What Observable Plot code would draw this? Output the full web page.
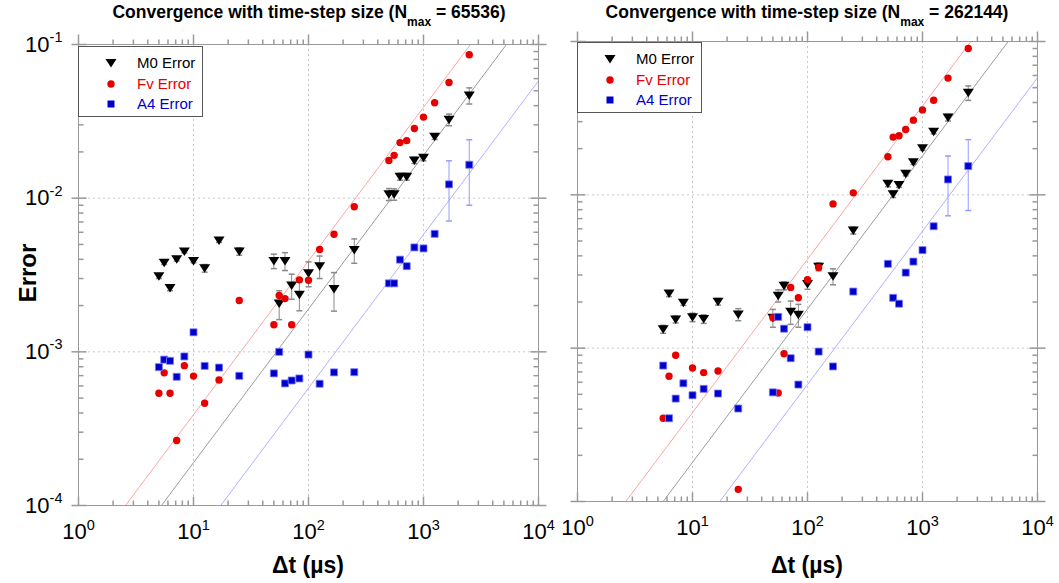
<!DOCTYPE html>
<html><head><meta charset="utf-8">
<script src="https://cdn.jsdelivr.net/npm/d3@7"></script>
<script src="https://cdn.jsdelivr.net/npm/@observablehq/plot@0.6"></script>
<style>
body{margin:0;background:#fff;}
#wrap{position:relative;width:1059px;height:583px;overflow:hidden;font-family:"Liberation Sans",Arial,sans-serif;background:#fff;}
.title{position:absolute;top:2px;font-weight:bold;font-size:17.5px;white-space:nowrap;transform:translateX(-50%);color:#000;}
.title sub{font-size:12px;vertical-align:-8px;line-height:0;}
.xlab{position:absolute;top:552px;font-weight:bold;font-size:23px;transform:translateX(-50%);white-space:nowrap;}
.ylab{position:absolute;left:28px;top:273px;font-weight:bold;font-size:24px;transform:translate(-50%,-50%) rotate(-90deg);}
.legend{position:absolute;border:1px solid #555;background:#fff;width:125px;height:71px;box-sizing:border-box;}
.legend .row{position:absolute;left:0;height:20px;font-size:15px;line-height:20px;}
.legend .row span{position:absolute;left:58px;white-space:nowrap;}
.legend .row svg{position:absolute;left:24px;top:2px;}
.panel{position:absolute;top:0;}
</style></head><body><div id="wrap"></div>
<script>
// ---- data ----
const seriesNames = ["M0 Error", "Fv Error", "A4 Error"];
const seriesColors = ["#000000", "#e60000", "#0000cc"];
const fitColors = ["#909090", "#ff9a9a", "#a8a8ff"];
const xTickValues = [1, 10, 100, 1000, 10000];
const yTickValues = [1e-4, 1e-3, 1e-2, 1e-1];

const dtLeft = [5, 5.56, 6.25, 7.14, 8.33, 10, 12.5, 16.67, 25, 50, 55.6, 62.5, 71.4, 83.3, 100, 125, 166.7, 250, 500, 555.6, 625, 714.3, 833.3, 1000, 1250, 1666.7, 2500];
const m0Left = [3.1e-3, 3.8e-3, 2.6e-3, 4.0e-3, 4.5e-3, 3.9e-3, 3.5e-3, 5.3e-3, 4.5e-3, 3.9e-3, 2.06e-3, 3.9e-3, 2.7e-3, 2.35e-3, 3.25e-3, 3.6e-3, 2.56e-3, 4.6e-3, 1.06e-2, 1.06e-2, 1.38e-2, 1.38e-2, 1.76e-2, 1.83e-2, 2.51e-2, 3.24e-2, 4.66e-2];
const m0ErrLeft = [0.1e-3, 0.1e-3, 0.1e-3, 0.1e-3, 0.1e-3, 0.1e-3, 0.2e-3, 0.15e-3, 0.25e-3, 0.42e-3, 0.44e-3, 0.52e-3, 0.5e-3, 0.5e-3, 0.6e-3, 0.6e-3, 0.72e-3, 0.83e-3, 0.95e-3, 0.9e-3, 0.7e-3, 0.7e-3, 0.8e-3, 0.8e-3, 1.0e-3, 2.8e-3, 5.6e-3];
const fvLeft = [5.38e-4, 7.3e-4, 5.38e-4, 2.65e-4, 8.13e-4, 6.95e-4, 4.63e-4, 6.55e-4, 2.16e-3, 1.5e-3, 2.33e-3, 2.22e-3, 1.5e-3, 2.94e-3, 2.92e-3, 4.63e-3, 5.83e-3, 8.8e-3, 1.76e-2, 1.9e-2, 2.3e-2, 2.37e-2, 2.84e-2, 3.37e-2, 4.18e-2, 5.66e-2, 8.57e-2];
const a4Left = [7.95e-4, 8.9e-4, 8.74e-4, 6.88e-4, 9.33e-4, 1.34e-3, 8.1e-4, 7.9e-4, 6.98e-4, 7.24e-4, 1.0e-3, 6.23e-4, 6.51e-4, 6.71e-4, 9.6e-4, 6.2e-4, 7.35e-4, 7.37e-4, 2.79e-3, 2.79e-3, 3.98e-3, 3.61e-3, 4.78e-3, 4.71e-3, 5.86e-3, 1.23e-2, 1.65e-2];
const a4ErrLeft = [0, 0, 0, 0, 0, 0, 0, 0, 0, 0, 0, 0, 0, 0, 0, 0, 0, 0, 0, 0, 0, 0, 0, 0, 0, 5.2e-3, 7.5e-3];
const fitCoefLeft = [1.9e-5, 3.9e-5, 5.8e-6];

const dtRight = [5.56, 6.25, 7.14, 8.33, 10, 12.5, 16.67, 25, 50, 55.6, 62.5, 71.4, 83.3, 100, 125, 166.7, 250, 500, 555.6, 625, 714.3, 833.3, 1000, 1250, 1666.7, 2500];
const m0Right = [1.33e-3, 2.27e-3, 1.54e-3, 1.98e-3, 1.59e-3, 1.55e-3, 2.01e-3, 1.66e-3, 1.58e-3, 2.2e-3, 2.55e-3, 1.73e-3, 1.65e-3, 2.62e-3, 3.4e-3, 2.94e-3, 5.85e-3, 1.18e-2, 1.01e-2, 1.16e-2, 1.37e-2, 1.63e-2, 2.01e-2, 2.58e-2, 3.19e-2, 4.63e-2];
const m0ErrRight = [0.08e-3, 0.1e-3, 0.08e-3, 0.08e-3, 0.1e-3, 0.1e-3, 0.1e-3, 0.15e-3, 0.21e-3, 0.2e-3, 0.15e-3, 0.3e-3, 0.28e-3, 0.2e-3, 0.2e-3, 0.35e-3, 0.3e-3, 0.5e-3, 0.5e-3, 0.4e-3, 0.4e-3, 0.5e-3, 0.6e-3, 0.8e-3, 1.6e-3, 5e-3];
const fvRight = [3.49e-4, 6.56e-4, 9.0e-4, null, 7.43e-4, 6.93e-4, 7.1e-4, 1.2e-4, 1.58e-3, 5.1e-4, 9.2e-4, 2.49e-3, 2.13e-3, 2.8e-3, 3.36e-3, 8.73e-3, 1.03e-2, 1.77e-2, 2.38e-2, 2.43e-2, 2.67e-2, 3.07e-2, 3.58e-2, 4.14e-2, 5.77e-2, 9.0e-2];
const a4Right = [7.7e-4, 3.49e-4, 4.69e-4, 5.9e-4, 4.93e-4, 5.43e-4, 5.06e-4, 4.04e-4, 5.15e-4, 1.6e-3, 1.34e-3, 8.6e-4, 5.79e-4, 1.37e-3, 9.5e-4, 7.6e-4, 2.34e-3, 3.55e-3, 2.13e-3, 1.95e-3, 3.11e-3, 3.67e-3, 4.36e-3, 6.24e-3, 1.26e-2, 1.54e-2];
const a4ErrRight = [0, 0, 0, 0, 0, 0, 0, 0, 0, 0, 0, 0, 0, 0, 0, 0, 0, 0, 0, 0, 0, 0, 0, 0, 5.3e-3, 7.5e-3];
const fitCoefRight = [1.8e-5, 3.8e-5, 5.8e-6];

const titles = ["65536", "262144"];

// ---- symbols ----
const triDown = {draw(c){c.moveTo(-5.5,-4);c.lineTo(5.5,-4);c.lineTo(0,4.5);c.closePath();}};
const sq = {draw(c){c.rect(-3.5,-3.5,7,7);}};
const circ = {draw(c){c.moveTo(3.7,0);c.arc(0,0,3.7,0,2*Math.PI);}};
const legendSymbols = [triDown, circ, sq];
const seg = (x1,y1,x2,y2) => ({draw(c){c.moveTo(x1,y1);c.lineTo(x2,y2);}});
const cap = seg(-3,0,3,0);

function minorTicks(lo, hi){
  const out=[];
  for(let e=lo;e<hi;e++) for(let k=2;k<=9;k++) out.push(+(k*Math.pow(10,e)).toPrecision(3));
  return out;
}
const xMinor = minorTicks(0,4), yMinor = minorTicks(-4,-1);
const fmt = d => "10^" + Math.round(Math.log10(d));

function panel(o){
  const rows = o.dt.map((d,i)=>({dt:d, m0:o.m0[i], m0e:o.m0e[i], fv:o.fv[i], a4:o.a4[i], a4e:o.a4e[i]}));
  const fitLines = o.coef.map(c => xTickValues.map(x => ({dt:x, e:c*x})));
  const tc = "#999";
  const marks = [
    Plot.ruleX(xTickValues.slice(1,-1), {stroke:"#c8c8c8", strokeDasharray:"2,3"}),
    Plot.ruleY(yTickValues.slice(1,-1), {stroke:"#c8c8c8", strokeDasharray:"2,3"}),
    ...fitLines.map((f,i)=>Plot.line(f, {x:"dt", y:"e", stroke:fitColors[i], strokeWidth:0.9, clip:true})),
    Plot.dot(xMinor, {x:d=>d, frameAnchor:"bottom", symbol:seg(0,0,0,-5), stroke:tc, fill:"none"}),
    Plot.dot(xTickValues, {x:d=>d, frameAnchor:"bottom", symbol:seg(0,0,0,-9), stroke:tc, fill:"none"}),
    Plot.dot(xMinor, {x:d=>d, frameAnchor:"top", symbol:seg(0,0,0,-5), stroke:tc, fill:"none"}),
    Plot.dot(xTickValues, {x:d=>d, frameAnchor:"top", symbol:seg(0,0,0,-10), stroke:tc, fill:"none"}),
    Plot.dot(yMinor, {y:d=>d, frameAnchor:"left", symbol:seg(0,0,5,0), stroke:tc, fill:"none"}),
    Plot.dot(yTickValues, {y:d=>d, frameAnchor:"left", symbol:seg(-7,0,8,0), stroke:tc, fill:"none"}),
    Plot.dot(yMinor, {y:d=>d, frameAnchor:"right", symbol:seg(0,0,-5,0), stroke:tc, fill:"none"}),
    Plot.dot(yTickValues, {y:d=>d, frameAnchor:"right", symbol:seg(-8,0,8,0), stroke:tc, fill:"none"}),
    Plot.frame({stroke:"#999"}),
    Plot.ruleX(rows.filter(d=>d.m0e>0), {x:"dt", y1:d=>d.m0-d.m0e, y2:d=>d.m0+d.m0e, stroke:"#8a8a8a", strokeWidth:1}),
    Plot.dot(rows.filter(d=>d.m0e>0), {x:"dt", y:d=>d.m0+d.m0e, symbol:cap, stroke:"#8a8a8a", fill:"none"}),
    Plot.dot(rows.filter(d=>d.m0e>0), {x:"dt", y:d=>d.m0-d.m0e, symbol:cap, stroke:"#8a8a8a", fill:"none"}),
    Plot.ruleX(rows.filter(d=>d.a4e>0), {x:"dt", y1:d=>d.a4-d.a4e, y2:d=>d.a4+d.a4e, stroke:"#9a9aff", strokeWidth:1}),
    Plot.dot(rows.filter(d=>d.a4e>0), {x:"dt", y:d=>d.a4+d.a4e, symbol:cap, stroke:"#9a9aff", fill:"none"}),
    Plot.dot(rows.filter(d=>d.a4e>0), {x:"dt", y:d=>d.a4-d.a4e, symbol:cap, stroke:"#9a9aff", fill:"none"}),
    Plot.dot(rows.filter(d=>d.m0!=null), {x:"dt", y:"m0", symbol:triDown, fill:seriesColors[0], stroke:"none"}),
    Plot.dot(rows.filter(d=>d.fv!=null), {x:"dt", y:"fv", symbol:circ, fill:seriesColors[1], stroke:"none"}),
    Plot.dot(rows.filter(d=>d.a4!=null), {x:"dt", y:"a4", symbol:sq, fill:seriesColors[2], stroke:"#7a7aff", strokeWidth:0.8}),
    Plot.axisX({ticks:xTickValues, tickSize:0, tickPadding:18, tickFormat:fmt, fontSize:22, label:null})
  ];
  if(o.yAxis) marks.push(Plot.axisY({ticks:yTickValues, tickSize:0, tickPadding:16, tickFormat:fmt, fontSize:22, label:null}));
  const svg = Plot.plot({
    width:o.width, height:583,
    marginLeft:o.ml, marginRight:o.mr, marginTop:o.mt, marginBottom:o.mb,
    x:{type:"log", domain:[1,1e4]},
    y:{type:"log", domain:[1e-4,1e-1], axis: o.yAxis ? undefined : null},
    style:{fontFamily:"'Liberation Sans Narrow','Liberation Sans',Arial,sans-serif", overflow:"visible", background:"transparent", color:"#000"},
    marks
  });
  const ns = "http://www.w3.org/2000/svg";
  svg.querySelectorAll("text").forEach(t=>{
    const m = /^10\^(-?\d+)$/.exec(t.textContent.trim());
    if(!m) return;
    t.textContent = "";
    const a = document.createElementNS(ns,"tspan"); a.textContent = "10";
    const b = document.createElementNS(ns,"tspan"); b.textContent = m[1];
    b.setAttribute("dy","-9.5"); b.setAttribute("font-size","14.5px");
    t.append(a,b);
  });
  svg.classList.add("panel");
  svg.style.left = o.left + "px";
  return svg;
}

const wrap = document.getElementById("wrap");
wrap.append(panel({dt:dtLeft, m0:m0Left, m0e:m0ErrLeft, fv:fvLeft, a4:a4Left, a4e:a4ErrLeft, coef:fitCoefLeft,
  left:0, width:548, ml:78, mr:10, mt:44, mb:78, yAxis:true}));
wrap.append(panel({dt:dtRight, m0:m0Right, m0e:m0ErrRight, fv:fvRight, a4:a4Right, a4e:a4ErrRight, coef:fitCoefRight,
  left:548, width:511, ml:29, mr:22, mt:41, mb:82, yAxis:false}));

function addDiv(cls, html, style){
  const d = document.createElement("div"); d.className = cls; d.innerHTML = html;
  Object.assign(d.style, style); wrap.append(d); return d;
}
addDiv("title", "Convergence with time-step size (N<sub>max</sub> = " + titles[0] + ")", {left:"309px"});
addDiv("title", "Convergence with time-step size (N<sub>max</sub> = " + titles[1] + ")", {left:"807px"});
addDiv("xlab", "\u0394t (\u00b5s)", {left:"308px"});
addDiv("xlab", "\u0394t (\u00b5s)", {left:"807px"});
addDiv("ylab", "Error", {});

function legend(left, top){
  const lg = addDiv("legend", "", {left:left+"px", top:top+"px"});
  seriesNames.forEach((n,i)=>{
    const r = document.createElement("div"); r.className="row"; r.style.top = (6 + i*20.5) + "px"; r.style.width="100%";
    const s = d3.create("svg").attr("width",16).attr("height",16);
    const p = d3.path(); legendSymbols[i].draw(p);
    s.append("path").attr("transform","translate(8,8)").attr("d", p.toString()).attr("fill", seriesColors[i]);
    r.append(s.node());
    const t = document.createElement("span"); t.textContent = n; t.style.color = seriesColors[i];
    r.append(t); lg.append(r);
  });
}
legend(78, 46);
legend(577, 42);
</script></body></html>
